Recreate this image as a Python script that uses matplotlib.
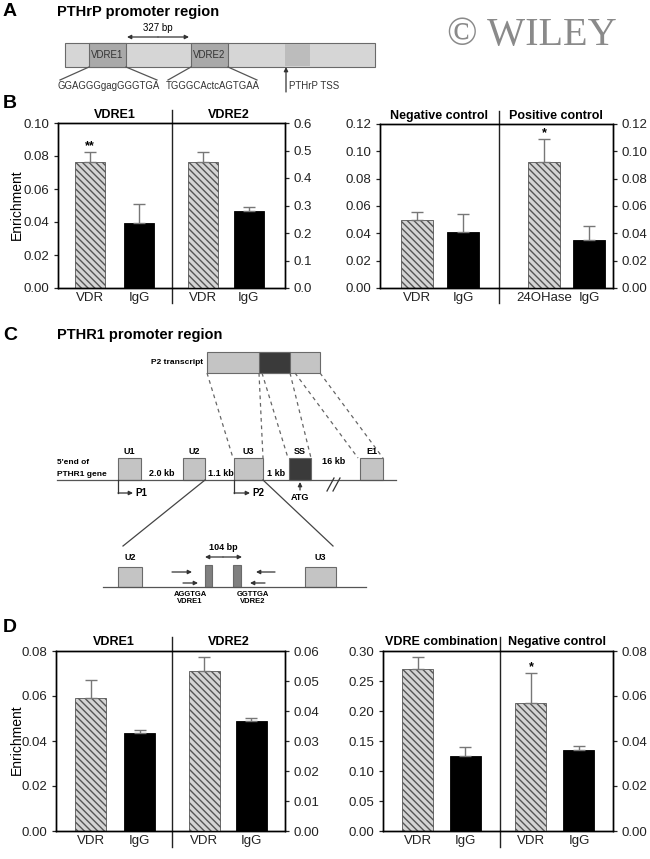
import matplotlib
matplotlib.use('Agg')
import matplotlib.pyplot as plt
from matplotlib.patches import Rectangle

plt.rcParams['font.family'] = ['Liberation Sans', 'DejaVu Sans']
plt.rcParams['hatch.linewidth'] = 1.0

# values
b1_groups = ['VDRE1', 'VDRE2']
b1_labels = ['VDR', 'IgG', 'VDR', 'IgG']
b1_values = [0.0763, 0.0396, 0.457, 0.281]
b1_errors = [0.0061, 0.0113, 0.039, 0.012]
b1_stars = ['**', '', '', '']
b1_lticks = [0.00, 0.02, 0.04, 0.06, 0.08, 0.10]
b1_rticks = [0.0, 0.1, 0.2, 0.3, 0.4, 0.5, 0.6]

b2_groups = ['Negative control', 'Positive control']
b2_labels = ['VDR', 'IgG', '24OHase', 'IgG']
b2_values = [0.0497, 0.0411, 0.0925, 0.0352]
b2_errors = [0.0056, 0.0132, 0.0165, 0.0103]
b2_stars = ['', '', '*', '']
b2_lticks = [0.00, 0.02, 0.04, 0.06, 0.08, 0.10, 0.12]
b2_rticks = [0.00, 0.02, 0.04, 0.06, 0.08, 0.10, 0.12]

d1_groups = ['VDRE1', 'VDRE2']
d1_labels = ['VDR', 'IgG', 'VDR', 'IgG']
d1_values = [0.0591, 0.0435, 0.0533, 0.0366]
d1_errors = [0.0082, 0.0012, 0.0048, 0.0012]
d1_stars = ['', '', '', '']
d1_lticks = [0.00, 0.02, 0.04, 0.06, 0.08]
d1_rticks = [0.00, 0.01, 0.02, 0.03, 0.04, 0.05, 0.06]

d2_groups = ['VDRE combination', 'Negative control']
d2_labels = ['VDR', 'IgG', 'VDR', 'IgG']
d2_values = [0.270, 0.125, 0.0567, 0.0358]
d2_errors = [0.020, 0.015, 0.0135, 0.0019]
d2_stars = ['', '', '*', '']
d2_lticks = [0.00, 0.05, 0.10, 0.15, 0.20, 0.25, 0.30]
d2_rticks = [0.00, 0.02, 0.04, 0.06, 0.08]

W, H = 650, 859
fig = plt.figure(figsize=(W / 100, H / 100), dpi=100)

# full-figure axes in pixel units for the schematics and labels
bg = fig.add_axes([0, 0, 1, 1])
bg.set_xlim(0, W)
bg.set_ylim(H, 0)
bg.axis('off')

GREY = '#c4c4c4'
DARK = '#3a3a3a'
LINE = '#555555'


def line(x, y, **kw):
    kw.setdefault('color', LINE)
    kw.setdefault('lw', 0.9)
    bg.plot(x, y, **kw)


def arrow(x0, y0, x1, y1, style='-|>', lw=0.9):
    bg.annotate('', xy=(x1, y1), xytext=(x0, y0),
                arrowprops=dict(arrowstyle=style, color='#333333', lw=lw,
                                mutation_scale=6, shrinkA=0, shrinkB=0))


def box(x, y, w, h, fc=GREY, ec='#6a6a6a'):
    bg.add_patch(Rectangle((x, y), w, h, fc=fc, ec=ec, lw=0.8))


def txt(x, y, s, size=6.5, bold=True, ha='center', **kw):
    bg.text(x, y, s, fontsize=size, fontweight='bold' if bold else 'normal',
            ha=ha, va='center', **kw)


# panel letters and titles
for letter, y in [('A', 12), ('B', 103), ('C', 335), ('D', 628)]:
    txt(10, y, letter, size=14)
txt(57, 12, 'PTHrP promoter region', size=10.5, ha='left')
txt(57, 335, 'PTHR1 promoter region', size=10.5, ha='left')
bg.text(532, 36, '\u00a9 WILEY', fontsize=29, family='Liberation Serif',
        color='#8a8a8a', ha='center', va='center')

# ---- panel A schematic ----
box(65, 43, 310, 24, fc='#d6d6d6')
bg.add_patch(Rectangle((285, 44), 25, 22, fc='#bcbcbc', ec='none'))
box(89, 43, 37, 24, fc='#a9a9a9')
box(191, 43, 37, 24, fc='#a9a9a9')
txt(107.5, 55, 'VDRE1', size=7, bold=False, color='#333333')
txt(209.5, 55, 'VDRE2', size=7, bold=False, color='#333333')
arrow(158, 37, 127, 37)
arrow(158, 37, 189, 37)
txt(158, 28, '327 bp', size=7, bold=False)
line([89, 60], [67, 80])
line([126, 157], [67, 80])
line([191, 168], [67, 80])
line([228, 257], [67, 80])
txt(57, 86, 'GGAGGGgagGGGTGA', size=6.9, bold=False, ha='left', color='#333333')
txt(166, 86, 'TGGGCActcAGTGAA', size=6.9, bold=False, ha='left', color='#333333')
txt(289, 86, 'PTHrP TSS', size=7, bold=False, ha='left', color='#333333')
arrow(286, 92, 286, 67)

# ---- panel C schematic ----
box(207, 352, 113, 21)
box(259, 352, 31, 21, fc=DARK)
txt(203, 363, 'P2 transcript', size=6, ha='right')
for xt, xb in [(207, 233), (259, 263), (262, 288), (290, 311), (295, 358), (320, 383)]:
    line([xt, xb], [373, 458], ls=(0, (3, 3)), color='#666666')

line([57, 396], [480, 480])
for name, x, w, fc in [('U1', 118, 23, GREY), ('U2', 183, 22, GREY), ('U3', 234, 29, GREY),
                       ('SS', 289, 22, DARK), ('E1', 360, 23, GREY)]:
    box(x, 458, w, 22, fc=fc)
    txt(x + w / 2, 451, name, size=6.5)
txt(57, 463, "5'end of", size=6, ha='left')
txt(57, 474, 'PTHR1 gene', size=6, ha='left')
txt(162, 473, '2.0 kb', size=6.5)
txt(221, 473, '1.1 kb', size=6.5)
txt(276, 473, '1 kb', size=6.5)
txt(334, 462, '16 kb', size=6.5)
line([327, 334], [491, 478], color='#333333')
line([333, 340], [491, 478], color='#333333')
line([118, 118], [480, 493], color='#333333')
arrow(118, 493, 133, 493)
txt(135, 493, 'P1', size=7, ha='left')
line([234, 234], [480, 493], color='#333333')
arrow(234, 493, 250, 493)
txt(252, 493, 'P2', size=7, ha='left')
arrow(300, 490, 300, 482)
txt(300, 498, 'ATG', size=6.5)
line([205, 123], [480, 546], color='#444444')
line([263, 333], [480, 546], color='#444444')

line([103, 366], [587, 587])
box(118, 567, 24, 20)
box(305, 567, 31, 20)
txt(130, 558, 'U2', size=6.5)
txt(320, 558, 'U3', size=6.5)
box(205, 565, 7, 22, fc='#808080')
box(233, 565, 8, 22, fc='#808080')
txt(223, 547, '104 bp', size=6.5)
arrow(223, 557, 205, 557)
arrow(223, 557, 242, 557)
arrow(172, 572, 192, 572)
arrow(183, 583, 198, 583)
arrow(275, 572, 256, 572)
arrow(265, 583, 250, 583)
txt(190, 598, 'AGGTGA\nVDRE1', size=5.5, linespacing=1.0)
txt(253, 598, 'GGTTGA\nVDRE2', size=5.5, linespacing=1.0)


def bar_panel(rect, groups, labels, values, errors, stars, lticks, rticks,
              pos, split, lfmt, rfmt, small_label=None):
    x0, y0, x1, y1 = rect
    ax = fig.add_axes([x0 / W, 1 - y1 / H, (x1 - x0) / W, (y1 - y0) / H])
    ax2 = ax.twinx()
    ax.set_xlim(0, 1)
    ax.set_ylim(lticks[0], lticks[-1])
    ax2.set_ylim(rticks[0], rticks[-1])
    for i in range(4):
        a = ax if i < 2 else ax2
        if i % 2 == 0:
            style = dict(color='#d4d4d4', edgecolor='#555555', hatch='\\' * 5, lw=0.6)
        else:
            style = dict(color='black', edgecolor='black', lw=0.6)
        a.bar(pos[i], values[i], width=0.135, yerr=[[0], [errors[i]]],
              error_kw=dict(ecolor='#777777', capsize=4, elinewidth=1, capthick=1),
              zorder=2, **style)
        if stars[i]:
            a.text(pos[i], values[i] + errors[i], stars[i], ha='center', va='bottom',
                   fontsize=9, fontweight='bold')
    ax.set_yticks(lticks)
    ax.set_yticklabels([lfmt % t for t in lticks])
    ax2.set_yticks(rticks)
    ax2.set_yticklabels([rfmt % t for t in rticks])
    ax.set_xticks(pos)
    ax.set_xticklabels(labels)
    if small_label is not None:
        ax.get_xticklabels()[small_label].set_fontsize(7)
    ax.tick_params(axis='x', length=0, pad=3, labelsize=9.5, colors='#222222')
    for a in (ax, ax2):
        a.tick_params(axis='y', direction='out', length=3, width=0.9,
                      labelsize=9.5, colors='#222222', pad=3)
        for s in a.spines.values():
            s.set_linewidth(1.0)
    ax.plot([split, split], [-0.09, 1.08], transform=ax.transAxes, color='#222222',
            lw=1.0, clip_on=False)
    ax.text(split / 2, 1.015, groups[0], transform=ax.transAxes, ha='center',
            va='bottom', fontsize=9, fontweight='bold')
    ax.text((split + 1) / 2, 1.015, groups[1], transform=ax.transAxes, ha='center',
            va='bottom', fontsize=9, fontweight='bold')
    return ax


bar_panel((58, 123, 285, 288), b1_groups, b1_labels, b1_values, b1_errors, b1_stars,
          b1_lticks, b1_rticks, [0.141, 0.357, 0.639, 0.841], 0.502, '%.2f', '%.1f')
bar_panel((380, 124, 613, 288), b2_groups, b2_labels, b2_values, b2_errors, b2_stars,
          b2_lticks, b2_rticks, [0.159, 0.356, 0.704, 0.897], 0.51, '%.2f', '%.2f',
          small_label=2)
bar_panel((56, 651, 285, 831), d1_groups, d1_labels, d1_values, d1_errors, d1_stars,
          d1_lticks, d1_rticks, [0.152, 0.365, 0.648, 0.852], 0.507, '%.2f', '%.2f')
bar_panel((383, 651, 613, 831), d2_groups, d2_labels, d2_values, d2_errors, d2_stars,
          d2_lticks, d2_rticks, [0.15, 0.357, 0.643, 0.852], 0.509, '%.2f', '%.2f')

bg.text(17, 205, 'Enrichment', rotation=90, ha='center', va='center', fontsize=10)
bg.text(17, 740, 'Enrichment', rotation=90, ha='center', va='center', fontsize=10)

fig.savefig('out.png', dpi=100)
